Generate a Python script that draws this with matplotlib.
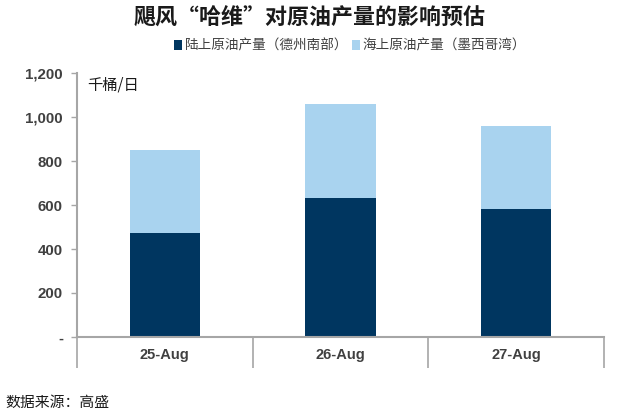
import matplotlib
matplotlib.use('Agg')
import matplotlib.pyplot as plt
from matplotlib.patches import Patch
from matplotlib.ticker import FixedLocator, FuncFormatter

plt.rcParams['font.family'] = ['Noto Sans CJK SC', 'DejaVu Sans']

## Data
dates = ['25-Aug', '26-Aug', '27-Aug']
onshore = [475, 630, 580]    ## 陆上原油产量（德州南部）
offshore = [375, 430, 380]   ## 海上原油产量（墨西哥湾）
series_names = ['陆上原油产量（德州南部）', '海上原油产量（墨西哥湾）']
yticks = [0, 200, 400, 600, 800, 1000, 1200]

c_dark = '#003660'
c_light = '#a9d3ef'
c_axis = '#a6a6a6'
c_text = '#404040'

fig = plt.figure(figsize=(6.4, 4.15), dpi=100)
ax = fig.add_axes([0.12, 0.188, 0.824, 0.636])

x = range(len(dates))
wd = 0.40
ax.bar(x, onshore, width=wd, color=c_dark, zorder=2)
ax.bar(x, offshore, width=wd, bottom=onshore, color=c_light, zorder=2)

ax.set_xlim(-0.5, len(dates)-0.5)
ax.set_ylim(0, 1200)

## y axis
ax.yaxis.set_major_locator(FixedLocator(yticks))
ax.yaxis.set_major_formatter(FuncFormatter(lambda v, p: '-' if v == 0 else '{:,.0f}'.format(v)))
ax.tick_params(axis='y', direction='out', length=4, width=1, color=c_axis, pad=6,
               labelsize=10.8, labelcolor=c_text)
for lab in ax.get_yticklabels():
    lab.set_fontfamily('Liberation Sans')
    lab.set_fontweight('bold')

## x axis: separators as major ticks, labels on minor ticks
ax.xaxis.set_major_locator(FixedLocator([-0.5 + i for i in range(len(dates)+1)]))
ax.xaxis.set_major_formatter(FuncFormatter(lambda v, p: ''))
ax.xaxis.set_minor_locator(FixedLocator(list(x)))
ax.set_xticklabels(dates, minor=True)
ax.tick_params(axis='x', which='major', direction='out', length=22, width=1.2, color=c_axis)
ax.tick_params(axis='x', which='minor', length=0, pad=8, labelsize=10.5, labelcolor=c_text)
for lab in ax.get_xticklabels(minor=True):
    lab.set_fontfamily('Liberation Sans')
    lab.set_fontweight('bold')

for s in ['top', 'right']:
    ax.spines[s].set_visible(False)
for s in ['left', 'bottom']:
    ax.spines[s].set_color(c_axis)
    ax.spines[s].set_linewidth(1.5)

ax.text(0.019, 0.985, '千桶/日', transform=ax.transAxes, ha='left', va='top',
        fontsize=11, color='#1a1a1a')

## title and legend
fig.text(0.484, 0.958, '飓风“哈维”对原油产量的影响预估', ha='center', va='center',
         fontsize=15.8, fontweight='bold', color='#1a1a1a')
handles = [Patch(facecolor=c_dark), Patch(facecolor=c_light)]
fig.legend(handles, series_names, loc='center', bbox_to_anchor=(0.547, 0.89), ncol=2,
           frameon=False, fontsize=9.8, handlelength=0.55, handleheight=0.75,
           handletextpad=0.2, columnspacing=0.3, labelcolor=c_text)

fig.text(0.008, 0.03, '数据来源：高盛', ha='left', va='center', fontsize=10.7, color='#1a1a1a')

fig.savefig('out.png', dpi=100)
